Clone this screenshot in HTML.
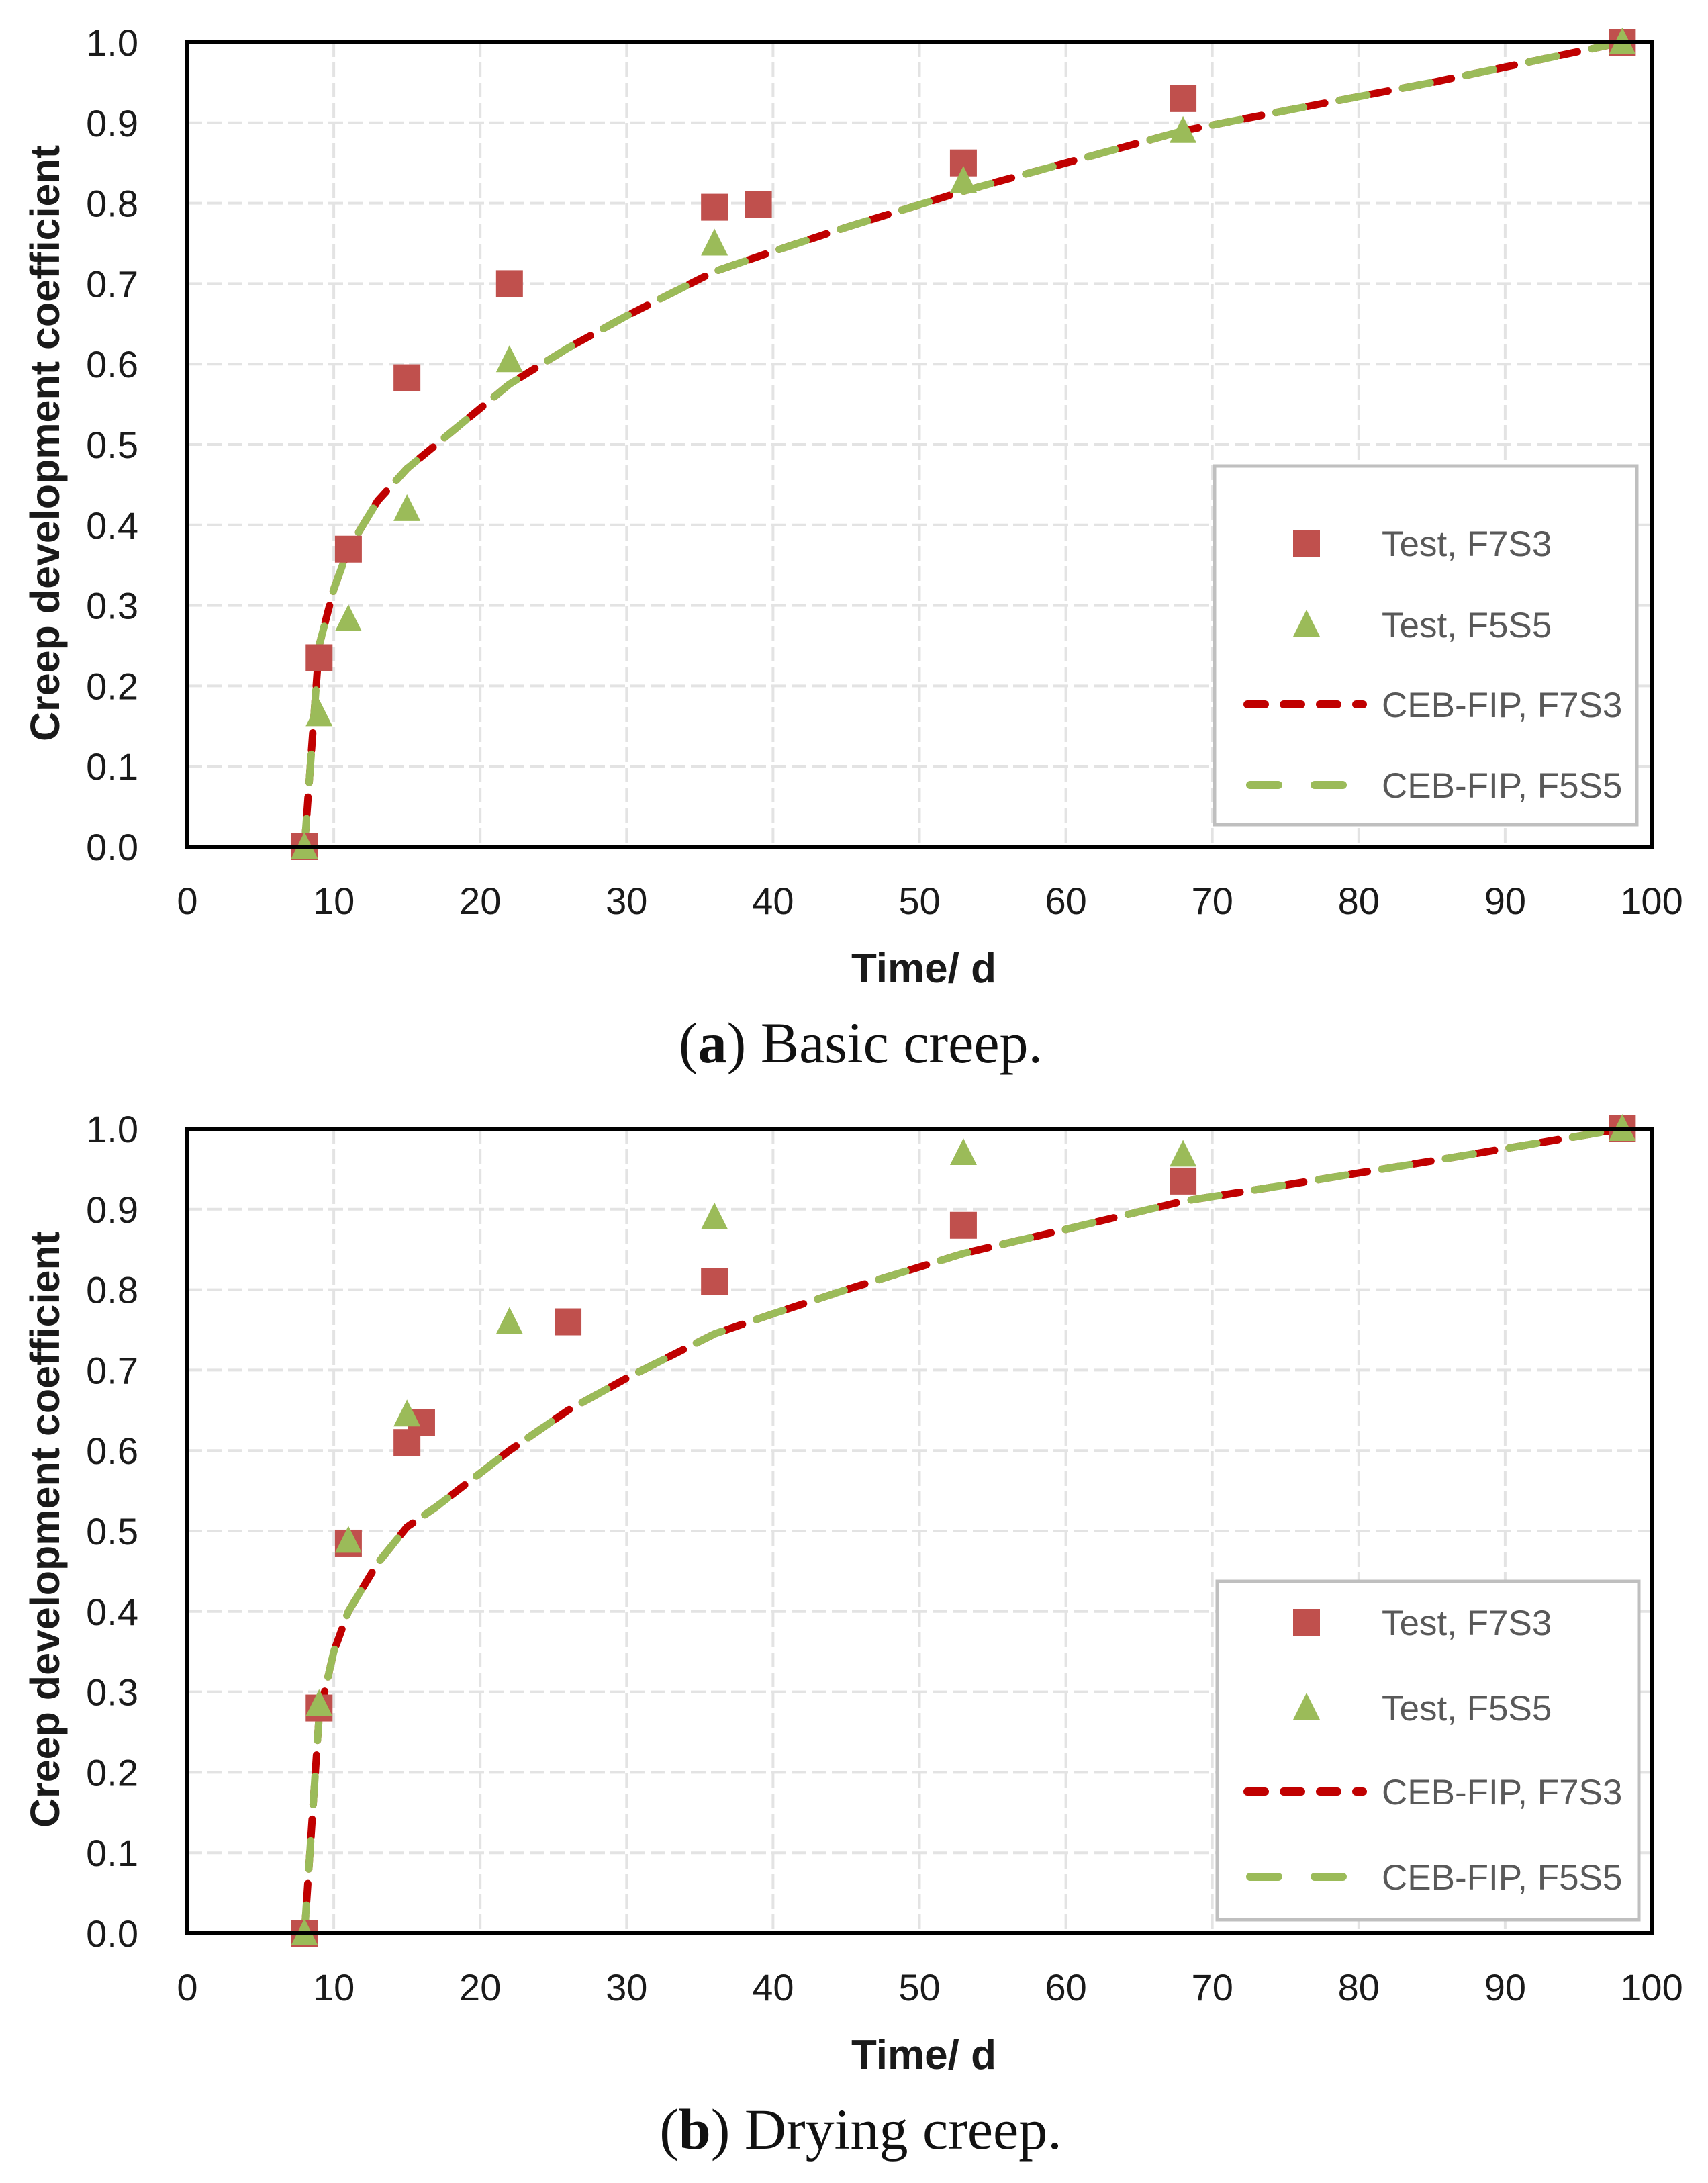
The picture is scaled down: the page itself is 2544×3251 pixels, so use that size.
<!DOCTYPE html>
<html><head><meta charset="utf-8">
<style>
html,body{margin:0;padding:0;background:#fff;}
svg{display:block;}
</style></head>
<body>
<svg id="fig" width="2544" height="3251" viewBox="0 0 2544 3251" xmlns="http://www.w3.org/2000/svg"></svg>
<script>
// ---- data ----
const xTicks = [0,10,20,30,40,50,60,70,80,90,100];
const yTicks = [0,0.1,0.2,0.3,0.4,0.5,0.6,0.7,0.8,0.9,1.0];
const yTickLabels = ["0.0","0.1","0.2","0.3","0.4","0.5","0.6","0.7","0.8","0.9","1.0"];
const legendLabels = ["Test, F7S3","Test, F5S5","CEB-FIP, F7S3","CEB-FIP, F5S5"];

const aF7S3x = [8,9,11,15,22,36,39,53,68,98];
const aF7S3y = [0,0.235,0.37,0.583,0.70,0.795,0.798,0.85,0.93,1.0];
const aF5S5x = [8,9,11,15,22,36,53,68,98];
const aF5S5y = [0,0.165,0.283,0.42,0.605,0.75,0.828,0.89,1.0];
const aCurveX = [8,9,10,11,13,15,17,22,26,30,36,40,45,53,60,68,75,85,98];
const aCurveF7S3 = [0,0.25,0.32,0.37,0.43,0.47,0.50,0.575,0.62,0.66,0.715,0.74,0.77,0.815,0.85,0.89,0.915,0.95,1.0];
const aCurveF5S5 = [0,0.25,0.32,0.37,0.43,0.47,0.50,0.575,0.62,0.66,0.715,0.74,0.77,0.815,0.85,0.89,0.915,0.95,1.0];

const bF7S3x = [8,9,11,15,16,26,36,53,68,98];
const bF7S3y = [0,0.28,0.485,0.61,0.635,0.76,0.81,0.88,0.935,1.0];
const bF5S5x = [8,9,11,15,22,36,53,68,98];
const bF5S5y = [0,0.285,0.488,0.645,0.76,0.89,0.97,0.968,1.0];
const bCurveX = [8,9,10,11,13,15,17,22,26,30,36,40,45,53,60,68,75,85,98];
const bCurveF7S3 = [0,0.27,0.35,0.40,0.46,0.505,0.53,0.60,0.65,0.69,0.745,0.77,0.80,0.845,0.875,0.91,0.93,0.96,1.0];
const bCurveF5S5 = [0,0.27,0.35,0.40,0.46,0.505,0.53,0.60,0.65,0.69,0.745,0.77,0.80,0.845,0.875,0.91,0.93,0.96,1.0];

const NS = "http://www.w3.org/2000/svg";
const svg = document.getElementById('fig');
function mk(tag, attrs, parent){
  const e = document.createElementNS(NS, tag);
  for (const k in attrs) e.setAttribute(k, attrs[k]);
  (parent||svg).appendChild(e);
  return e;
}
const FONT = '"Liberation Sans", "DejaVu Sans", sans-serif';

function drawChart(id, top, bottom, legend, d, caption, capB, capRest, capY){
  const L = 279, R = 2460;
  const xs = v => L + (v/100)*(R-L);
  const ys = v => bottom - v*(bottom-top);
  const g = mk('g', {});
  
  

  yTicks.forEach((t,i)=>{
    if (i===0) return;
    const l = mk('line',{x1:L,x2:R,y1:ys(t),y2:ys(t),stroke:'#e3e3e3','stroke-width':4,'stroke-dasharray':'22 8'},g);
    
    
  });
  xTicks.forEach((t,i)=>{
    if (i===0 || i===xTicks.length-1) return;
    const l = mk('line',{x1:xs(t),x2:xs(t),y1:top,y2:bottom,stroke:'#e3e3e3','stroke-width':4,'stroke-dasharray':'22 8'},g);
    
    
  });

  yTicks.forEach((t,i)=>{
    const tx = mk('text',{x:206,y:ys(t)+20,'text-anchor':'end','font-family':FONT,'font-size':56,fill:'#1a1a1a'},g);
    tx.textContent = yTickLabels[i];
    
    
  });
  xTicks.forEach(t=>{
    const tx = mk('text',{x:xs(t),y:bottom+100,'text-anchor':'middle','font-family':FONT,'font-size':56,fill:'#1a1a1a'},g);
    tx.textContent = String(t);
    
    
  });

  const xt = mk('text',{x:1376,y:bottom+202,'text-anchor':'middle','font-family':FONT,'font-size':62,'font-weight':'bold',fill:'#1a1a1a'},g);
  xt.textContent = 'Time/ d';
  
  
  const cy = (top+bottom)/2 - 2;
  const yt = mk('text',{x:0,y:0,'text-anchor':'middle','font-family':FONT,'font-size':61,'font-weight':'bold',fill:'#1a1a1a',transform:`translate(88,${cy}) rotate(-90)`},g);
  yt.textContent = 'Creep development coefficient';
  
  

  function curve(xa, ya, color, dash, name){
    const pts = xa.map((x,i)=>xs(x)+','+ys(ya[i])).join(' ');
    const p = mk('polyline',{points:pts,fill:'none',stroke:color,'stroke-width':11,'stroke-linecap':'round','stroke-linejoin':'round','stroke-dasharray':dash},g);
    
    
  }
  curve(d.cx, d.c1, '#C00000', '26 22', 'curve-ceb-fip-f7s3');
  curve(d.cx, d.c2, '#9BBB59', '42 54', 'curve-ceb-fip-f5s5');

  function square(cx,cy,parent){
    return mk('rect',{x:cx-20,y:cy-20,width:40,height:40,fill:'#C0504D'},parent);
  }
  function tri(cx,cy,parent){
    return mk('polygon',{points:`${cx},${cy-22} ${cx+20},${cy+18} ${cx-20},${cy+18}`,fill:'#9BBB59'},parent);
  }
  d.sx.forEach((x,i)=>{
    const s = square(xs(x), ys(d.sy[i]), g);
    
    
  });
  d.tx.forEach((x,i)=>{
    const t = tri(xs(x), ys(d.ty[i]), g);
    
    
  });

  const fr = mk('rect',{x:L,y:top,width:R-L,height:bottom-top,fill:'none',stroke:'#000','stroke-width':6},g);
  
  

  const lg = mk('g',{},g);
  
  
  const bx = mk('rect',{x:legend.x,y:legend.y,width:legend.w,height:legend.h,fill:'#fff',stroke:'#bfbfbf','stroke-width':5},lg);
  
  
  legend.rows.forEach((ry,i)=>{
    const e = mk('g',{},lg);
    
    
    if (i===0) square(1946, ry, e);
    if (i===1) tri(1946, ry, e);
    if (i===2) mk('line',{x1:1858,x2:2030,y1:ry,y2:ry,stroke:'#C00000','stroke-width':12,'stroke-linecap':'round','stroke-dasharray':'26 28'},e);
    if (i===3) mk('line',{x1:1862,x2:2030,y1:ry,y2:ry,stroke:'#9BBB59','stroke-width':12,'stroke-linecap':'round','stroke-dasharray':'42 54'},e);
    const t = mk('text',{x:2058,y:ry+19,'font-family':FONT,'font-size':53,fill:'#595959'},e);
    t.textContent = legendLabels[i];
  });

  const cap = mk('text',{x:1282,y:capY,'text-anchor':'middle','font-family':'"Liberation Serif", serif','font-size':86,fill:'#111'},svg);
  
  
  const t1 = mk('tspan',{},cap); t1.textContent='(';
  const t2 = mk('tspan',{'font-weight':'bold'},cap); t2.textContent=capB;
  const t3 = mk('tspan',{},cap); t3.textContent=capRest;
}

drawChart('chart-basic-creep', 63, 1261,
  {x:1809,y:694,w:629,h:534,rows:[809,930,1049,1169]},
  {sx:aF7S3x,sy:aF7S3y,tx:aF5S5x,ty:aF5S5y,cx:aCurveX,c1:aCurveF7S3,c2:aCurveF5S5},
  'caption-a','a',') Basic creep.',1582);
drawChart('chart-drying-creep', 1681, 2879,
  {x:1813,y:2355,w:628,h:504,rows:[2416,2543,2668,2795]},
  {sx:bF7S3x,sy:bF7S3y,tx:bF5S5x,ty:bF5S5y,cx:bCurveX,c1:bCurveF7S3,c2:bCurveF5S5},
  'caption-b','b',') Drying creep.',3200);
</script>
</body></html>
